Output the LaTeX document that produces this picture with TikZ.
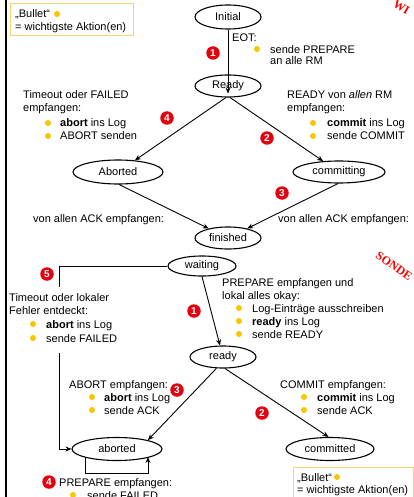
\documentclass[tikz,border=0pt]{standalone}
\usepackage{fontspec}
\setmainfont{Liberation Sans}
\newfontfamily\stampfont{Liberation Serif}
\usetikzlibrary{shapes.geometric,arrows.meta,calc}
\definecolor{byel}{HTML}{F7C600}
\definecolor{lyel}{HTML}{F3D46E}
\definecolor{nred}{HTML}{E3000F}
\begin{document}
\begin{tikzpicture}[x=1pt,y=-1pt,
  every node/.style={font=\fontsize{11}{13}\selectfont},
  st/.style={ellipse, draw, line width=1.1pt, inner sep=0pt},
  tx/.style={anchor=base west, inner sep=0pt},
  bl/.style={circle, fill=byel, inner sep=0pt, minimum size=6pt},
  nm/.style={circle, fill=nred, text=white, inner sep=0pt, minimum size=13.5pt, font=\bfseries\fontsize{10}{10}\selectfont},
  arr/.style={-{Stealth[length=6pt,width=5pt]}, line width=0.9pt},
  ln/.style={line width=0.9pt},
  lg/.style={draw=lyel, line width=1pt},
  stamp/.style={text=red, font=\stampfont\bfseries\fontsize{12}{12}\selectfont, anchor=west, inner sep=0pt}]
\useasboundingbox (0,0) rectangle (414,497);
\clip (0,0) rectangle (414,497);
\fill[white] (0,0) rectangle (414,497);

% left border
\draw[line width=1.3pt] (6,0) -- (6,497);

% stamps
\node[stamp, rotate=-30] (s1) at (394,3) {WI};
\node[stamp, rotate=-35] (s2) at (377,254) {SONDE};

% legend boxes
\draw[lg] (10,4) rectangle (133,36);
\node[tx] (lgA1) at (15,18) {„Bullet“};
\node[bl] (lgAb) at (57,14) {};
\node[tx] (lgA2) at (15,31) {= wichtigste Aktion(en)};
\draw[lg] (293,467) rectangle (413,510);
\node[tx] (lgB1) at (297,481) {„Bullet“};
\node[bl] (lgBb) at (337,477) {};
\node[tx] (lgB2) at (297,493) {= wichtigste Aktion(en)};

% states (coordinator)
\node[st, minimum width=66pt, minimum height=24pt] (ini) at (228,17) {Initial};
\node[st, minimum width=66pt, minimum height=22pt] (rdy) at (228,86) {Ready};
\node[st, minimum width=90pt, minimum height=24pt] (abo) at (118,172) {Aborted};
\node[st, minimum width=92pt, minimum height=22pt] (cmg) at (339,172) {committing};
\node[st, minimum width=66pt, minimum height=22pt] (fin) at (228,238) {finished};

% states (participant)
\node[st, minimum width=68pt, minimum height=20pt] (wai) at (202,266) {waiting};
\node[st, minimum width=66pt, minimum height=22pt] (rdy2) at (223,357) {ready};
\node[st, minimum width=90pt, minimum height=23pt] (abt) at (117,449) {aborted};
\node[st, minimum width=88pt, minimum height=23pt] (cmt) at (330,449) {committed};

% connectors coordinator
\draw[arr] (ini) -- ($(rdy.south)+(0,-4)$);
\draw[arr] (rdy.260) -- (abo);
\draw[arr] (rdy.280) -- (cmg);
\draw[arr] (abo.-85) -- (fin);
\draw[arr] (cmg.-95) -- (fin);

% connectors participant
\draw[arr] (wai.south) -- (rdy2);
\coordinate (c1) at (59,266);
\coordinate (c2) at (59,287);
\coordinate (c3) at (59,353);
\draw[ln] (wai.west) -- (c1) -- (c2);
\draw[arr] (c3) |- (abt.west);
\draw[arr] (rdy2.240) -- (abt.16);
\draw[arr] (rdy2.280) -- (cmt.97);
\coordinate (l1) at ($(abt.center)+(-32,8)$);
\coordinate (l2) at ($(abt.center)+(31,8)$);
\draw[arr] (l1) -- ++(0,16) -| (l2);

% numbers
\node[nm] (n1) at (213,53) {1};
\node[nm] (n4) at (167,118) {4};
\node[nm] (n2) at (267,138) {2};
\node[nm] (n3) at (282,193) {3};
\node[nm] (n5) at (47,274) {5};
\node[nm] (n1b) at (194,311) {1};
\node[nm] (n3b) at (177,390) {3};
\node[nm] (n2b) at (262,413) {2};
\node[nm] (n4b) at (49,482) {4};

% labels coordinator
\node[tx] (eot) at (232,42) {EOT:};
\node[bl] (eotb) at (257,49) {};
\node[tx] (eot1) at (270,54) {sende PREPARE};
\node[tx] (eot2) at (270,65) {an alle RM};

\node[tx] (ta1) at (23,99) {Timeout oder FAILED};
\node[tx] (ta2) at (23,112) {empfangen:};
\node[bl] (tab1) at (48,123) {};
\node[tx] (ta3) at (60,127) {\textbf{abort} ins Log};
\node[bl] (tab2) at (48,136) {};
\node[tx] (ta4) at (60,140) {ABORT senden};

\node[tx] (rc1) at (287,99) {READY von \textit{allen} RM};
\node[tx] (rc2) at (287,112) {empfangen:};
\node[bl] (rcb1) at (313,123) {};
\node[tx] (rc3) at (327,127) {\textbf{commit} ins Log};
\node[bl] (rcb2) at (313,136) {};
\node[tx] (rc4) at (327,140) {sende COMMIT};

\node[tx] (ack1) at (33,222) {von allen ACK empfangen:};
\node[tx] (ack2) at (278,222) {von allen ACK empfangen:};

% labels participant
\node[tx] (tl1) at (9,301) {Timeout oder lokaler};
\node[tx] (tl2) at (9,314) {Fehler entdeckt:};
\node[bl] (tlb1) at (33,324) {};
\node[tx] (tl3) at (46,328) {\textbf{abort} ins Log};
\node[bl] (tlb2) at (33,338) {};
\node[tx] (tl4) at (46,342) {sende FAILED};

\node[tx] (pr1) at (222,286) {PREPARE empfangen und};
\node[tx] (pr2) at (222,299) {lokal alles okay:};
\node[bl] (prb1) at (239,308) {};
\node[tx] (pr3) at (252,312) {Log-Einträge ausschreiben};
\node[bl] (prb2) at (239,321) {};
\node[tx] (pr4) at (252,325) {\textbf{ready} ins Log};
\node[bl] (prb3) at (239,334) {};
\node[tx] (pr5) at (252,338) {sende READY};

\node[tx] (ab1) at (69,388) {ABORT empfangen:};
\node[bl] (abb1) at (92,397) {};
\node[tx] (ab2) at (104,401) {\textbf{abort} ins Log};
\node[bl] (abb2) at (92,410) {};
\node[tx] (ab3) at (104,414) {sende ACK};

\node[tx] (cm1) at (280,388) {COMMIT empfangen:};
\node[bl] (cmb1) at (304,397) {};
\node[tx] (cm2) at (317,401) {\textbf{commit} ins Log};
\node[bl] (cmb2) at (304,410) {};
\node[tx] (cm3) at (317,414) {sende ACK};

\node[tx] (pf1) at (59,486) {PREPARE empfangen:};
\node[bl] (pfb) at (73,495) {};
\node[tx] (pf2) at (87,499) {sende FAILED};
\end{tikzpicture}
\end{document}
